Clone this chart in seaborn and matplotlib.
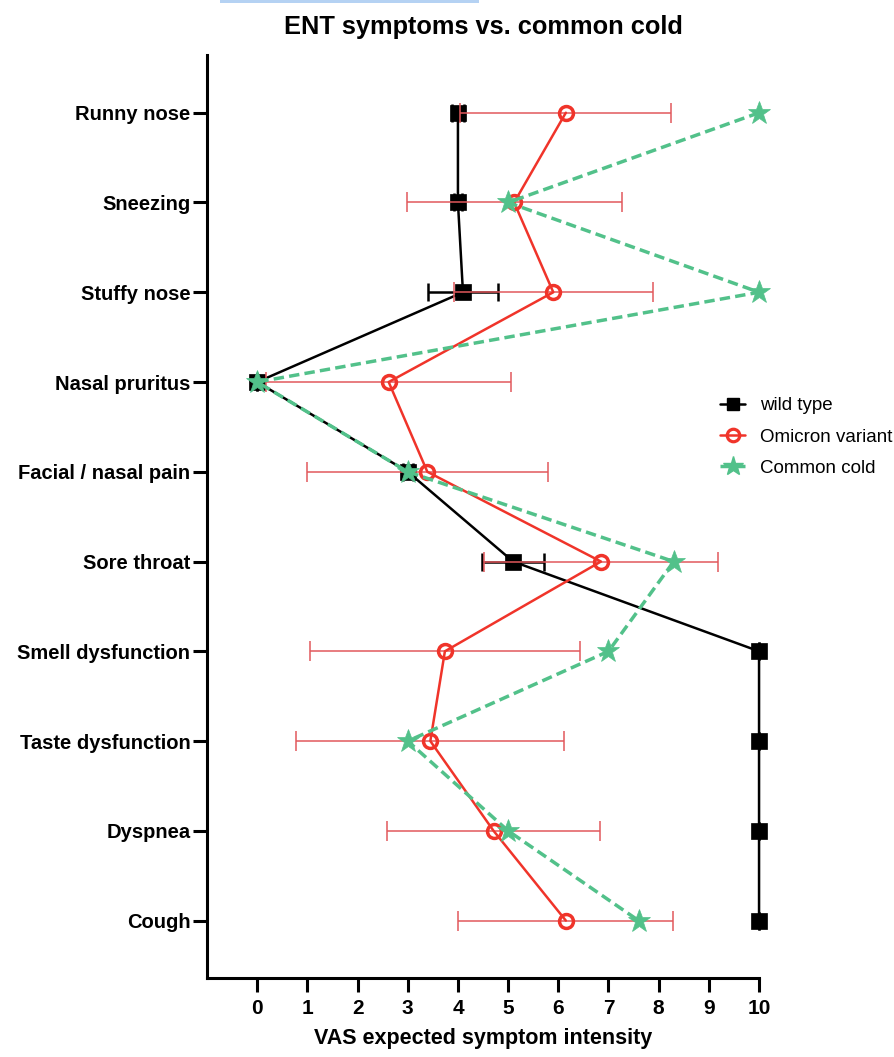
import matplotlib
matplotlib.use("Agg")

import matplotlib.pyplot as plt
import numpy as np
import pandas as pd
import seaborn as sns

from matplotlib.lines import Line2D
from matplotlib.patches import Rectangle

# values
symptoms = [
    "Runny nose",
    "Sneezing",
    "Stuffy nose",
    "Nasal pruritus",
    "Facial / nasal pain",
    "Sore throat",
    "Smell dysfunction",
    "Taste dysfunction",
    "Dyspnea",
    "Cough",
]
wild_type = [4.0, 4.0, 4.1, 0.0, 3.0, 5.1, 10.0, 10.0, 10.0, 10.0]
wild_type_err = [0.12, 0.08, 0.7, 0.0, 0.1, 0.62, 0.0, 0.0, 0.0, 0.0]
omicron = [6.15, 5.12, 5.9, 2.62, 3.39, 6.85, 3.74, 3.45, 4.71, 6.15]
omicron_err = [2.1, 2.14, 1.98, 2.44, 2.4, 2.33, 2.69, 2.67, 2.12, 2.14]
common_cold = [10.0, 5.0, 10.0, 0.0, 3.0, 8.3, 7.0, 3.0, 5.0, 7.6]
x_ticks = list(range(0, 11))

groups = ["wild type", "Omicron variant", "Common cold"]

sns.set_style("ticks")
plt.rcParams["font.family"] = ["Liberation Sans", "DejaVu Sans"]
plt.rcParams["text.color"] = "black"
plt.rcParams["axes.labelcolor"] = "black"
plt.rcParams["xtick.color"] = "black"
plt.rcParams["ytick.color"] = "black"

BLACK = "#000000"
RED = "#f0342a"
RED_ERR = "#e2585c"
GREEN = "#52c18a"

pos = np.arange(len(symptoms))
df = pd.DataFrame(
    {
        "symptom": symptoms * 3,
        "pos": list(pos) * 3,
        "score": wild_type + omicron + common_cold,
        "group": np.repeat(groups, len(symptoms)),
    }
)

fig = plt.figure(figsize=(8.95, 10.57), dpi=100)
ax = fig.add_axes([0.2313, 0.0747, 0.6168, 0.873])

# wild type
ax.errorbar(
    wild_type, pos, xerr=wild_type_err, fmt="none", ecolor=BLACK,
    elinewidth=1.8, capsize=6.5, capthick=1.8, zorder=2, clip_on=False,
)
sns.lineplot(
    data=df[df["group"] == "wild type"], x="score", y="pos", orient="y",
    sort=False, estimator=None, ax=ax, color=BLACK, linewidth=1.8,
    marker="s", markersize=11, markerfacecolor=BLACK, markeredgecolor=BLACK,
    markeredgewidth=0.5, zorder=3, clip_on=False,
)

# omicron
ax.errorbar(
    omicron, pos, xerr=omicron_err, fmt="none", ecolor=RED_ERR,
    elinewidth=1.1, capsize=7, capthick=1.1, zorder=4, clip_on=False,
)
sns.lineplot(
    data=df[df["group"] == "Omicron variant"], x="score", y="pos", orient="y",
    sort=False, estimator=None, ax=ax, color=RED, linewidth=1.8,
    marker="o", markersize=10, markerfacecolor="none", markeredgecolor=RED,
    markeredgewidth=2.5, zorder=5, clip_on=False,
)

# common cold
sns.lineplot(
    data=df[df["group"] == "Common cold"], x="score", y="pos", orient="y",
    sort=False, estimator=None, ax=ax, color=GREEN, linewidth=2.5,
    linestyle=(0, (3, 1.5)), marker="*", markersize=17,
    markerfacecolor=GREEN, markeredgecolor=GREEN, markeredgewidth=0.5,
    zorder=6, clip_on=False,
)

ax.set_xlim(-1, 10)
ax.set_ylim(9.64, -0.64)
ax.set_xticks(x_ticks)
ax.set_xticklabels([str(t) for t in x_ticks], fontsize=15, fontweight="bold")
ax.set_yticks(pos)
ax.set_yticklabels(symptoms, fontsize=14.5, fontweight="bold")

sns.despine(ax=ax)
for side in ["left", "bottom"]:
    ax.spines[side].set_linewidth(2.2)
    ax.spines[side].set_color(BLACK)
ax.tick_params(axis="both", direction="out", length=10, width=2.2, color=BLACK,
               labelcolor=BLACK)
ax.tick_params(axis="y", pad=2)
ax.tick_params(axis="x", pad=5)

ax.set_xlabel("VAS expected symptom intensity", fontsize=15.5, fontweight="bold",
              labelpad=7, color=BLACK)
ax.set_ylabel("")
ax.set_title("ENT symptoms vs. common cold", fontsize=18.3, fontweight="bold",
             pad=15, color=BLACK)

handles = [
    Line2D([], [], color=BLACK, linewidth=1.8, marker="s", markersize=9),
    Line2D([], [], color=RED, linewidth=1.8, marker="o", markersize=9,
           markerfacecolor="none", markeredgewidth=2.3),
    Line2D([], [], color=GREEN, linewidth=2.5, linestyle=(0, (3, 1.5)),
           marker="*", markersize=15),
]
leg = fig.legend(
    handles, groups, loc="center left", bbox_to_anchor=(720 / 895, 1 - 437 / 1057),
    frameon=False, fontsize=13.5, handlelength=1.35, handletextpad=0.8,
    labelspacing=0.75, borderpad=0, borderaxespad=0,
)
for text in leg.get_texts():
    text.set_color(BLACK)

# thin blue strip at the very top of the reference image
fig.add_artist(
    Rectangle((220 / 895, 1 - 3 / 1057), 259 / 895, 3 / 1057,
              transform=fig.transFigure, color="#b5d2f3", linewidth=0)
)

fig.savefig("out.png", dpi=100)
